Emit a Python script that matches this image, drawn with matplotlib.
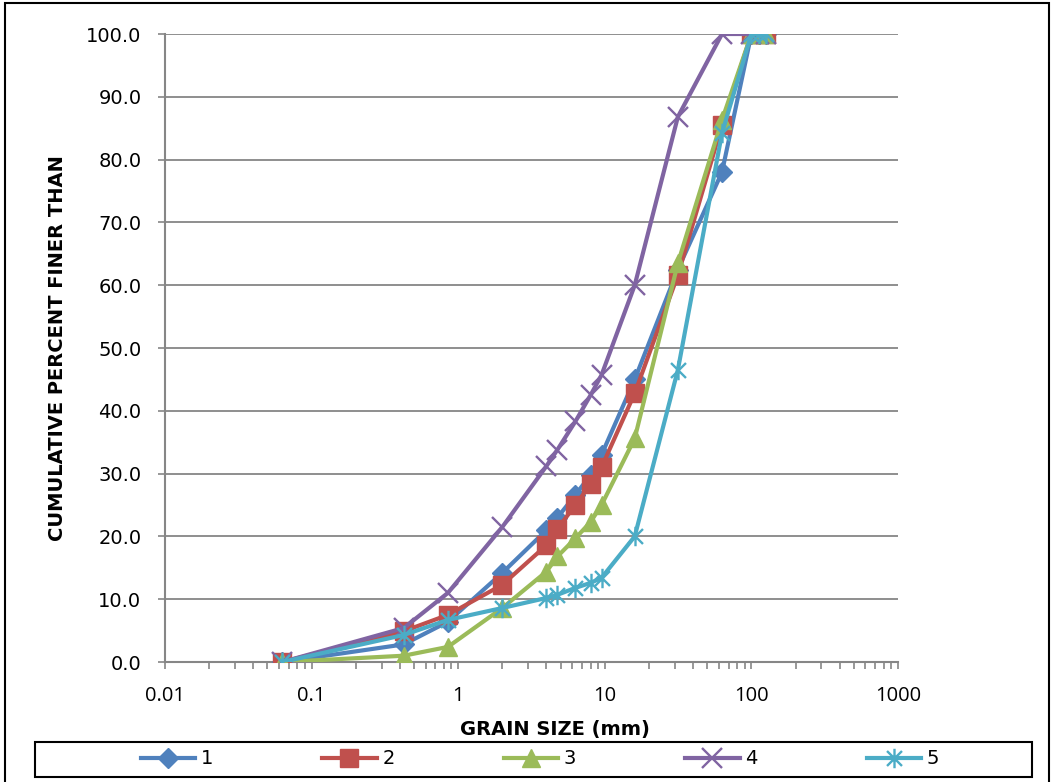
import numpy as np
import matplotlib
matplotlib.use("Agg")
import matplotlib.pyplot as plt
from matplotlib.path import Path
from matplotlib.patches import Rectangle

# --- data ---
sizes = [0.063, 0.425, 0.85, 2, 4, 4.75, 6.3, 8, 9.5, 16, 31.5, 63, 100, 112, 125]

s1 = [0.0, 2.8, 6.4, 14.2, 21.0, 23.0, 26.6, 29.8, 33.0, 45.0, 62.5, 78.0, 100.0, 100.0, 100.0]
s2 = [0.0, 4.9, 7.5, 12.3, 18.6, 21.2, 25.0, 28.3, 31.0, 42.8, 61.6, 85.5, 100.0, 100.0, 100.0]
s3 = [0.0, 1.0, 2.4, 8.6, 14.4, 16.8, 19.7, 22.3, 25.0, 35.6, 63.5, 86.3, 100.0, 100.0, 100.0]
s4 = [0.0, 5.4, 11.0, 21.5, 31.2, 33.8, 38.3, 42.5, 45.7, 60.0, 86.8, 100.0, 100.0, 100.0, 100.0]
s5 = [0.0, 4.3, 6.7, 8.6, 10.2, 10.7, 11.8, 12.6, 13.4, 20.0, 46.5, 84.2, 100.0, 100.0, 100.0]

labels = ["1", "2", "3", "4", "5"]
colors = ["#4F81BD", "#C0504D", "#9BBB59", "#8064A2", "#4BACC6"]

# excel-style asterisk: an X plus a vertical bar
star = Path([(-1, -1), (1, 1), (-1, 1), (1, -1), (0, -1.3), (0, 1.3)],
            [Path.MOVETO, Path.LINETO, Path.MOVETO, Path.LINETO, Path.MOVETO, Path.LINETO])
markers = [("D", 10), ("s", 13), ("^", 13), ("x", 14), (star, 14)]

fig = plt.figure(figsize=(10.53, 7.82), dpi=100)
ax = fig.add_axes([165 / 1053, 1 - 662 / 782, (898 - 165) / 1053, (662 - 34) / 782])

grid_col = "#868686"
for ys, lab, c, (m, ms) in zip([s1, s2, s3, s4, s5], labels, colors, markers):
    filled = m in ("D", "s", "^")
    ax.plot(sizes, ys, color=c, lw=3.0, marker=m, markersize=ms,
            markerfacecolor=c, markeredgecolor=c,
            markeredgewidth=1.0 if filled else 1.7, label=lab, zorder=3)

ax.set_xscale("log")
ax.set_xlim(0.01, 1000)
ax.set_ylim(0, 100)
ax.set_yticks(np.arange(0, 101, 10))
ax.set_yticklabels([f"{v:.1f}" for v in range(0, 101, 10)], fontsize=14, family="DejaVu Sans")
ax.set_xticks([0.01, 0.1, 1, 10, 100, 1000])
ax.set_xticklabels(["0.01", "0.1", "1", "10", "100", "1000"], fontsize=14.5, family="Open Sans")

ax.yaxis.grid(True, color=grid_col, lw=1.3)
ax.set_axisbelow(True)
for side in ["top", "right"]:
    ax.spines[side].set_visible(False)
for side in ["left", "bottom"]:
    ax.spines[side].set_color(grid_col)
    ax.spines[side].set_linewidth(1.5)
ax.tick_params(axis="y", which="major", direction="out", length=5, width=1.2, color=grid_col, pad=12)
ax.tick_params(axis="x", which="both", direction="out", length=5, width=1.2, color=grid_col, pad=12)

ax.set_xlabel("GRAIN SIZE (mm)", fontsize=14, fontweight="bold", va="center")
ax.xaxis.set_label_coords(0.532, -(730 - 662) / 628)
ax.set_ylabel("CUMULATIVE PERCENT FINER THAN", fontsize=14, fontweight="bold", va="center")
ax.yaxis.set_label_coords(-(165 - 57) / 733, 0.5)

# legend box drawn separately, entries centred inside
fig.patches.append(Rectangle((35 / 1053, 1 - 777 / 782), (1032 - 35) / 1053, 35 / 782,
                             transform=fig.transFigure, fill=False, edgecolor="black", lw=1.5))
leg = fig.legend(loc="center", bbox_to_anchor=(540 / 1053, 1 - 759 / 782),
                 ncol=5, fontsize=14, frameon=False,
                 handlelength=2.8, handletextpad=0.3, columnspacing=5.6)

# outer chart border
fig.patches.append(Rectangle((5 / 1053, -0.02), 1044 / 1053, 1.02 - 3 / 782,
                             transform=fig.transFigure, fill=False, edgecolor="black", lw=1.5))

fig.savefig("out.png", dpi=100)
